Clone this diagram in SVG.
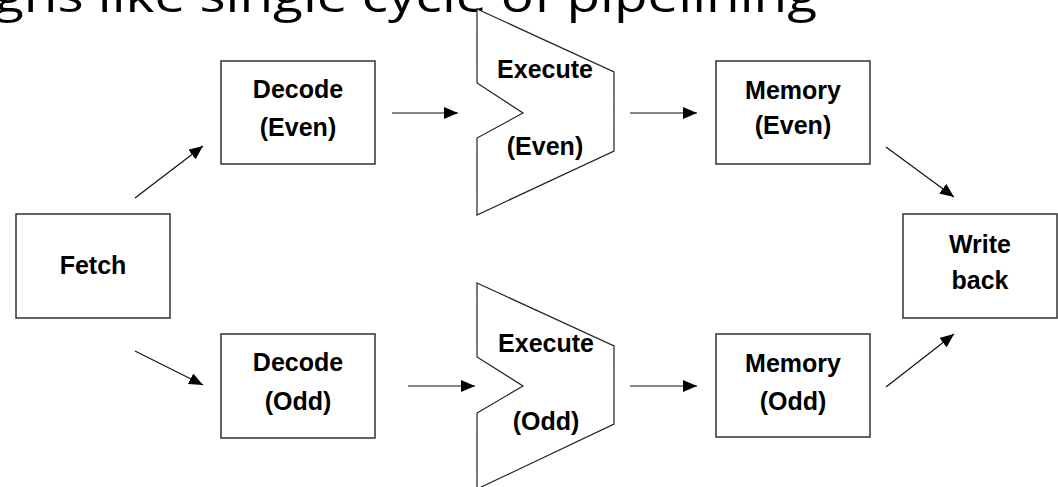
<svg xmlns="http://www.w3.org/2000/svg" width="1058" height="487" viewBox="0 0 1058 487">
<defs>
<style>
.box{fill:#fff;stroke:#333;stroke-width:1.5}
.shape{fill:#fff;stroke:#222;stroke-width:1.2}
.lbl{font-family:"Liberation Sans",Arial,sans-serif;font-weight:bold;font-size:25px;fill:#000;text-anchor:middle}
.title{font-family:"Open Sans","Liberation Sans",sans-serif;font-size:46px;fill:#000}
.conn{stroke:#111;stroke-width:1.2;fill:none;marker-end:url(#ah)}
</style>
<marker id="ah" viewBox="0 0 14 12" refX="14" refY="6" markerWidth="14" markerHeight="12" markerUnits="userSpaceOnUse" orient="auto">
<path d="M0,0 L14,6 L0,12 Z" fill="#000"/>
</marker>
</defs>
<rect width="1058" height="487" fill="#fff"/>
<text class="title" x="-6" y="12" textLength="823" lengthAdjust="spacingAndGlyphs">gns like single cycle of pipelining</text>
<g id="connectors">
<line class="conn" x1="135" y1="198" x2="203" y2="146"/>
<line class="conn" x1="135" y1="351" x2="203" y2="385"/>
<line class="conn" x1="392" y1="113" x2="458" y2="113"/>
<line class="conn" x1="408" y1="386" x2="475" y2="386"/>
<line class="conn" x1="630" y1="113" x2="697" y2="113"/>
<line class="conn" x1="630" y1="386" x2="697" y2="386"/>
<line class="conn" x1="886" y1="147" x2="954" y2="197"/>
<line class="conn" x1="886" y1="387" x2="954" y2="334"/>
</g>
<g id="fetch">
<rect class="box" x="16" y="214" width="154" height="104"/>
<text class="lbl" x="93" y="274">Fetch</text>
</g>
<g id="decode-even">
<rect class="box" x="221" y="61" width="154" height="103"/>
<text class="lbl" x="298" y="98">Decode</text>
<text class="lbl" x="298" y="136">(Even)</text>
</g>
<g id="decode-odd">
<rect class="box" x="221" y="334" width="154" height="104"/>
<text class="lbl" x="298" y="371">Decode</text>
<text class="lbl" x="298" y="410">(Odd)</text>
</g>
<g id="execute-even">
<path class="shape" d="M477,9 L614,72 L614,151 L477,215 L477,138 L523,113 L477,83 Z"/>
<text class="lbl" x="545" y="78">Execute</text>
<text class="lbl" x="545" y="155">(Even)</text>
</g>
<g id="execute-odd">
<path class="shape" d="M477,283 L614,346 L614,424 L477,489 L477,413 L523,386 L477,357 Z"/>
<text class="lbl" x="546" y="352">Execute</text>
<text class="lbl" x="546" y="430">(Odd)</text>
</g>
<g id="memory-even">
<rect class="box" x="716" y="61" width="154" height="103"/>
<text class="lbl" x="793" y="99">Memory</text>
<text class="lbl" x="793" y="134">(Even)</text>
</g>
<g id="memory-odd">
<rect class="box" x="716" y="334" width="154" height="103"/>
<text class="lbl" x="793" y="372">Memory</text>
<text class="lbl" x="793" y="410">(Odd)</text>
</g>
<g id="write-back">
<rect class="box" x="903" y="214" width="154" height="104"/>
<text class="lbl" x="980" y="253">Write</text>
<text class="lbl" x="980" y="289">back</text>
</g>
</svg>
